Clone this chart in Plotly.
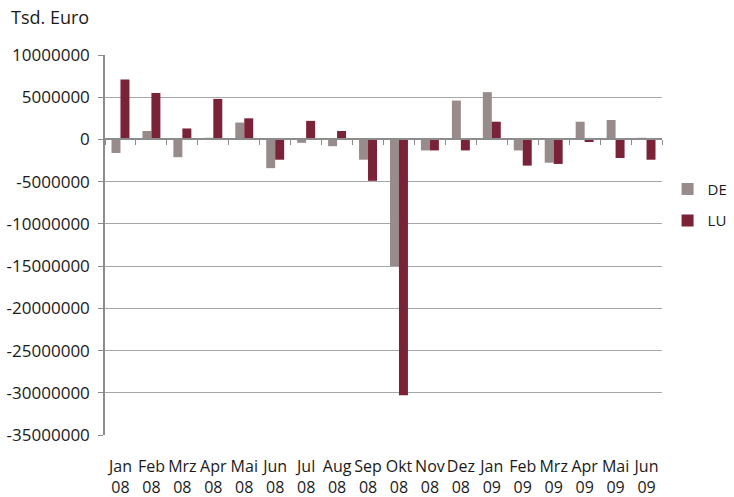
import plotly.graph_objects as go

categories = ["Jan<br>08", "Feb<br>08", "Mrz<br>08", "Apr<br>08", "Mai<br>08", "Jun<br>08",
              "Jul<br>08", "Aug<br>08", "Sep<br>08", "Okt<br>08", "Nov<br>08", "Dez<br>08",
              "Jan<br>09", "Feb<br>09", "Mrz<br>09", "Apr<br>09", "Mai<br>09", "Jun<br>09"]
de_values = [-1600000, 1000000, -2100000, 200000, 2000000, -3400000,
             -400000, -800000, -2400000, -15000000, -1300000, 4600000,
             5600000, -1300000, -2750000, 2100000, 2300000, 200000]
lu_values = [7100000, 5500000, 1300000, 4800000, 2500000, -2400000,
             2200000, 1000000, -4900000, -30300000, -1300000, -1300000,
             2100000, -3100000, -2900000, -300000, -2200000, -2400000]
y_ticks = [10000000, 5000000, 0, -5000000, -10000000, -15000000, -20000000,
           -25000000, -30000000, -35000000]

FONT = "Open Sans"
FS = 16
FSY = 17
fig = go.Figure()
fig.add_trace(go.Bar(name="DE", x=categories, y=de_values, marker_color="#978b8b",
                     marker_line_width=0, legendgroup="de"))
fig.add_trace(go.Bar(name="LU", x=categories, y=lu_values, marker_color="#7a2237",
                     marker_line_width=0, legendgroup="lu"))
# invisible trace for the zero-line category axis with tick marks
fig.add_trace(go.Scatter(x=categories, y=[0] * len(categories), xaxis="x2",
                         mode="markers", marker_opacity=0, showlegend=False,
                         hoverinfo="skip"))

ymin, ymax = -35000000, 10000000
fig.update_layout(
    width=734, height=497,
    margin=dict(l=105, r=72, t=55, b=62, autoexpand=False),
    paper_bgcolor="white", plot_bgcolor="white",
    barmode="group", bargap=0.42, bargroupgap=0,
    font=dict(family=FONT, size=FS, color="#1a1a1a"),
    xaxis=dict(type="category", categoryarray=categories, range=[-0.5, 17.5],
               showgrid=False, showline=False, ticks="", zeroline=False,
               tickangle=0, automargin=False,
               ticklabelstandoff=20, tickfont=dict(size=FS)),
    xaxis2=dict(type="category", categoryarray=categories, range=[-0.5, 17.5],
                overlaying="x", anchor="free",
                position=(0 - ymin) / (ymax - ymin),
                showgrid=False, showline=True, linecolor="#8c8c8c", linewidth=1.5,
                ticks="outside", ticklen=5, tickcolor="#8c8c8c", tickson="boundaries",
                showticklabels=False, zeroline=False, automargin=False),
    yaxis=dict(range=[ymin, ymax], tickvals=y_ticks, ticktext=[str(v) for v in y_ticks],
               showgrid=True, gridcolor="#a6a6a6", gridwidth=1,
               showline=True, linecolor="#8c8c8c", linewidth=1.5,
               ticks="outside", ticklen=5, tickcolor="#8c8c8c", automargin=False,
               zeroline=False, ticklabelstandoff=5, tickfont=dict(size=FSY)),
    legend=dict(x=1.01, y=0.69, xanchor="left", yanchor="top",
                font=dict(size=15), traceorder="grouped", tracegroupgap=9, itemwidth=30,
                bgcolor="rgba(0,0,0,0)"),
    annotations=[dict(text="Tsd. Euro", xref="paper", yref="paper",
                      x=-0.172, y=1.1, xanchor="left", yanchor="middle",
                      showarrow=False, font=dict(size=18))],
)
fig.write_html("out.html", post_script="document.body.style.margin='0';",
               config={"displayModeBar": False})
